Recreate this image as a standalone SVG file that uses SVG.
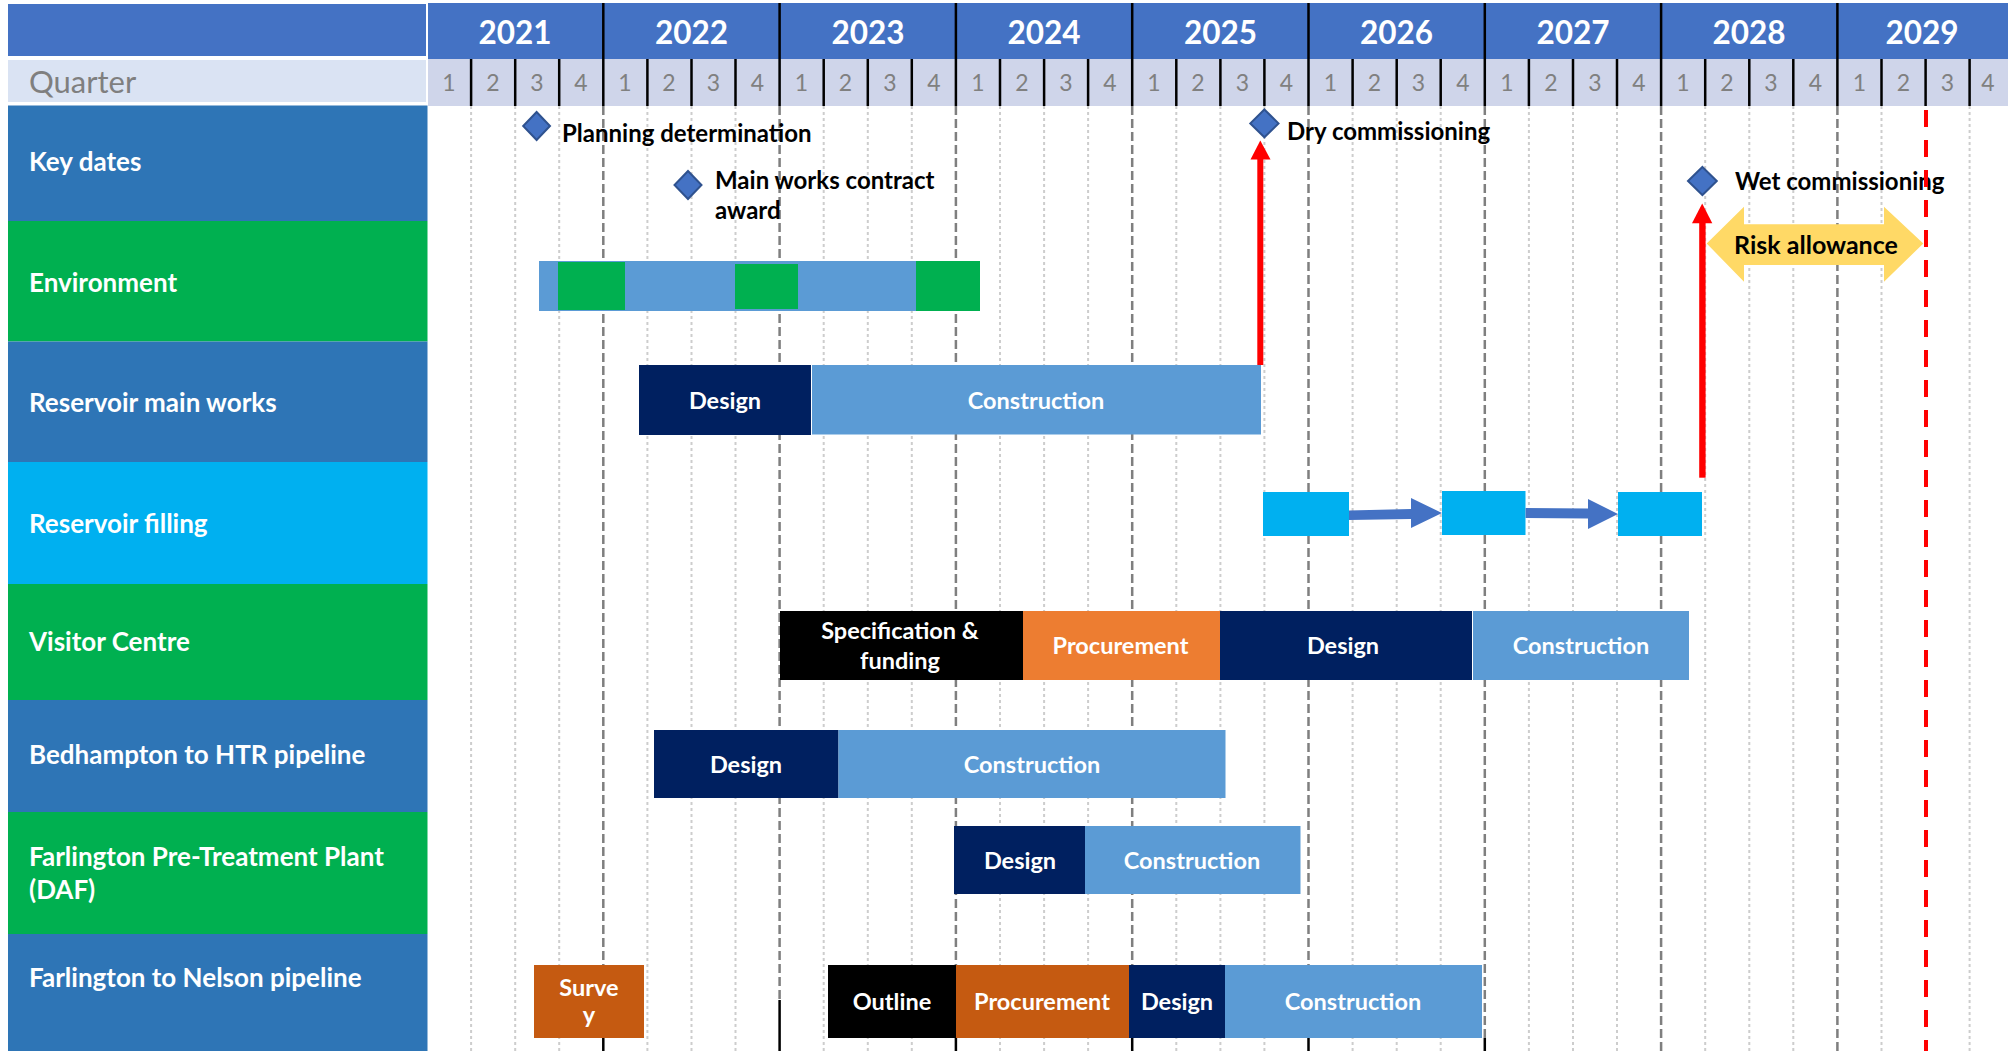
<svg xmlns="http://www.w3.org/2000/svg" width="2013" height="1051" viewBox="0 0 2013 1051">
<style>
.yr{fill:#4472C4}
.qr{fill:#CFD5EA}
.yt{font-family:Lato,"Liberation Sans",sans-serif;font-weight:bold;font-size:31.5px;fill:#fff;text-anchor:middle}
.qt{font-family:Lato,"Liberation Sans",sans-serif;font-size:23px;fill:#808080;text-anchor:middle}
.lab{font-family:Lato,"Liberation Sans",sans-serif;font-weight:bold;font-size:26px;fill:#fff}
.bt{font-family:Lato,"Liberation Sans",sans-serif;font-weight:bold;font-size:23.5px;fill:#fff;text-anchor:middle}
.kt{font-family:Lato,"Liberation Sans",sans-serif;font-weight:bold;font-size:24px;fill:#000}
.ms{fill:#4472C4;stroke:#2F528F;stroke-width:2}
.gq{stroke:#CDCDCD;stroke-width:2;stroke-dasharray:3 3;fill:none}
.gy{stroke:#7F7F7F;stroke-width:2.5;stroke-dasharray:9 4;fill:none}
.hb{stroke:#000;stroke-width:2.5;fill:none}
.navy{fill:#002060}
.lb{fill:#5B9BD5}
.grn{fill:#00B050}
.blk{fill:#000}
.org{fill:#ED7D31}
.dorg{fill:#C55A11}
.cy{fill:#00B0F0}
.red{fill:#FF0000}
</style>
<rect width="2013" height="1051" fill="#fff"/>

<g id="header">
<rect x="8" y="4" width="418" height="52" class="yr"/>
<rect x="8" y="60" width="418" height="42" fill="#DAE3F3"/>
<text x="29" y="93" font-family="Lato,'Liberation Sans',sans-serif" font-size="31" fill="#7F7F7F">Quarter</text>
<rect x="428" y="3" width="1580" height="56" class="yr"/>
<rect x="428" y="59" width="1580" height="47" class="qr"/>
<text class="yt" x="515" y="43.5">2021</text>
<text class="yt" x="691.5" y="43.5">2022</text>
<text class="yt" x="868" y="43.5">2023</text>
<text class="yt" x="1044" y="43.5">2024</text>
<text class="yt" x="1220.5" y="43.5">2025</text>
<text class="yt" x="1396.5" y="43.5">2026</text>
<text class="yt" x="1573" y="43.5">2027</text>
<text class="yt" x="1749" y="43.5">2028</text>
<text class="yt" x="1922" y="43.5">2029</text>
<g class="qt">
<text x="449" y="91">1</text><text x="493" y="91">2</text><text x="537" y="91">3</text><text x="581" y="91">4</text>
<text x="625" y="91">1</text><text x="669" y="91">2</text><text x="713.5" y="91">3</text><text x="757.5" y="91">4</text>
<text x="801.5" y="91">1</text><text x="845.5" y="91">2</text><text x="890" y="91">3</text><text x="934" y="91">4</text>
<text x="978" y="91">1</text><text x="1022" y="91">2</text><text x="1066" y="91">3</text><text x="1110" y="91">4</text>
<text x="1154" y="91">1</text><text x="1198" y="91">2</text><text x="1242.5" y="91">3</text><text x="1286.5" y="91">4</text>
<text x="1330.5" y="91">1</text><text x="1374.5" y="91">2</text><text x="1418.5" y="91">3</text><text x="1463" y="91">4</text>
<text x="1507" y="91">1</text><text x="1551" y="91">2</text><text x="1595" y="91">3</text><text x="1639" y="91">4</text>
<text x="1683" y="91">1</text><text x="1727" y="91">2</text><text x="1771" y="91">3</text><text x="1815.5" y="91">4</text>
<text x="1859.5" y="91">1</text><text x="1903.5" y="91">2</text><text x="1947.5" y="91">3</text><text x="1988" y="91">4</text>
</g>
<path class="hb" d="M603.3 3V106M779.6 3V106M955.9 3V106M1132.2 3V106M1308.5 3V106M1484.8 3V106M1661.1 3V106M1837.4 3V106"/>
<path class="hb" d="M471.1 59V106M515.2 59V106M559.2 59V106M647.4 59V106M691.5 59V106M735.5 59V106M823.7 59V106M867.8 59V106M911.8 59V106M1000 59V106M1044.1 59V106M1088.1 59V106M1176.3 59V106M1220.4 59V106M1264.4 59V106M1352.6 59V106M1396.7 59V106M1440.7 59V106M1528.9 59V106M1573 59V106M1617 59V106M1705.2 59V106M1749.3 59V106M1793.3 59V106M1881.5 59V106M1925.6 59V106M1969.6 59V106"/>
</g>

<g id="grid">
<path class="gq" d="M471.1 106V1051M515.2 106V1051M559.2 106V1051M647.4 106V1051M691.5 106V1051M735.5 106V1051M823.7 106V1051M867.8 106V1051M911.8 106V1051M1000 106V1051M1044.1 106V1051M1088.1 106V1051M1176.3 106V1051M1220.4 106V1051M1264.4 106V1051M1352.6 106V1051M1396.7 106V1051M1440.7 106V1051M1528.9 106V1051M1573 106V1051M1617 106V1051M1705.2 106V1051M1749.3 106V1051M1793.3 106V1051M1881.5 106V1051M1969.6 106V1051"/>
<path class="gy" d="M603.3 106V1038M779.6 106V1000M955.9 106V1038M1132.2 106V1038M1308.5 106V1038M1484.8 106V1038M1661.1 106V1051M1837.4 106V1051"/>
<path class="hb" d="M603.3 1038V1051M779.6 1000V1051M955.9 1038V1051M1132.2 1038V1051M1308.5 1038V1051M1484.8 1038V1051"/>
</g>

<g id="row-key-dates">
<rect x="8" y="105.5" width="419.5" height="115.5" fill="#2E75B6"/>
<text class="lab" x="29" y="171">Key dates</text>
</g>
<g id="row-environment">
<rect x="8" y="221" width="419.5" height="120.5" class="grn"/>
<text class="lab" x="29" y="291.5">Environment</text>
</g>
<g id="row-reservoir-main-works">
<rect x="8" y="341.5" width="419.5" height="120.5" fill="#2E75B6"/>
<text class="lab" x="29" y="412">Reservoir main works</text>
</g>
<g id="row-reservoir-filling">
<rect x="8" y="462" width="419.5" height="122" class="cy"/>
<text class="lab" x="29" y="533">Reservoir filling</text>
</g>
<g id="row-visitor-centre">
<rect x="8" y="584" width="419.5" height="116" class="grn"/>
<text class="lab" x="29" y="651">Visitor Centre</text>
</g>
<g id="row-bedhampton">
<rect x="8" y="700" width="419.5" height="112" fill="#2E75B6"/>
<text class="lab" x="29" y="764">Bedhampton to HTR pipeline</text>
</g>
<g id="row-farlington-ptp">
<rect x="8" y="812" width="419.5" height="122" class="grn"/>
<text class="lab" x="29" y="865.5">Farlington Pre-Treatment Plant</text>
<text class="lab" x="29" y="899">(DAF)</text>
</g>
<g id="row-farlington-nelson">
<rect x="8" y="934" width="419.5" height="117" fill="#2E75B6"/>
<text class="lab" x="29" y="987">Farlington to Nelson pipeline</text>
</g>

<g id="bars-environment">
<rect x="539" y="261" width="441" height="50" class="lb"/>
<rect x="558" y="262" width="67" height="48" class="grn"/>
<rect x="735" y="264" width="63" height="45" class="grn"/>
<rect x="916" y="261" width="64" height="50" class="grn"/>
</g>

<g id="bars-reservoir-main-works">
<rect x="639" y="365" width="172" height="70" class="navy"/>
<text class="bt" x="725" y="408.5">Design</text>
<rect x="812" y="365" width="449" height="69.5" class="lb"/>
<text class="bt" x="1036" y="408.5">Construction</text>
</g>

<g id="bars-reservoir-filling">
<rect x="1263" y="492" width="86" height="44" class="cy"/>
<rect x="1442" y="491" width="83.5" height="44" class="cy"/>
<rect x="1618" y="492" width="84" height="44" class="cy"/>
</g>

<g id="bars-visitor-centre">
<rect x="780" y="611" width="243" height="69" class="blk"/>
<text class="bt" x="900" y="639">Specification &amp;</text>
<text class="bt" x="900" y="668.5">funding</text>
<rect x="1023" y="611" width="197" height="69" class="org"/>
<text class="bt" x="1120.5" y="654">Procurement</text>
<rect x="1220" y="611" width="252" height="69" class="navy"/>
<text class="bt" x="1343" y="654">Design</text>
<rect x="1473" y="611" width="216" height="69" class="lb"/>
<text class="bt" x="1581" y="654">Construction</text>
</g>

<g id="bars-bedhampton">
<rect x="654" y="730" width="184.5" height="68" class="navy"/>
<text class="bt" x="746" y="772.5">Design</text>
<rect x="838.5" y="730" width="387" height="68" class="lb"/>
<text class="bt" x="1032" y="772.5">Construction</text>
</g>

<g id="bars-farlington-ptp">
<rect x="954" y="826" width="131" height="68" class="navy"/>
<text class="bt" x="1020" y="868.5">Design</text>
<rect x="1085" y="826" width="215.5" height="68" class="lb"/>
<text class="bt" x="1192" y="868.5">Construction</text>
</g>

<g id="bars-farlington-nelson">
<rect x="534" y="965" width="110" height="73" class="dorg"/>
<text class="bt" x="589" y="995.5">Surve</text>
<text class="bt" x="589" y="1023">y</text>
<rect x="828" y="965" width="128" height="73" class="blk"/>
<text class="bt" x="892" y="1010">Outline</text>
<rect x="956" y="965" width="173" height="73" class="dorg"/>
<text class="bt" x="1042" y="1010">Procurement</text>
<rect x="1129" y="965" width="96" height="73" class="navy"/>
<text class="bt" x="1177" y="1010">Design</text>
<rect x="1225" y="965" width="257" height="73" class="lb"/>
<text class="bt" x="1353" y="1010">Construction</text>
</g>

<g id="milestone-planning">
<polygon class="ms" points="536.6,112 550,126 536.6,140 523.2,126"/>
<text class="kt" x="562" y="142">Planning determination</text>
</g>
<g id="milestone-contract">
<polygon class="ms" points="688,171 701.5,185 688,199 674.5,185"/>
<text class="kt" x="715" y="188.5">Main works contract</text>
<text class="kt" x="715" y="219">award</text>
</g>
<g id="milestone-dry">
<polygon class="ms" points="1264.4,109.5 1278.5,123.4 1264.4,137.3 1250.3,123.4"/>
<text class="kt" x="1287" y="139.5">Dry commissioning</text>
</g>
<g id="milestone-wet">
<polygon class="ms" points="1702.4,167 1716.8,181 1702.4,195 1688,181"/>
<text class="kt" x="1735" y="189.5">Wet commissioning</text>
</g>

<g id="risk-allowance">
<polygon fill="#FFD966" points="1706.7,243.5 1744,206.7 1744,224.3 1884,224.3 1884,206.7 1923.3,243.5 1884,281.7 1884,265 1744,265 1744,281.7"/>
<text x="1816" y="254" font-family="Lato,'Liberation Sans',sans-serif" font-weight="bold" font-size="25" fill="#000" text-anchor="middle">Risk allowance</text>
</g>

<g id="connectors">
<rect class="red" x="1257.3" y="158" width="6" height="207"/>
<polygon class="red" points="1250.5,159.5 1260.3,140.5 1270.5,159.5"/>
<rect class="red" x="1699.2" y="222" width="6.4" height="255.7"/>
<polygon class="red" points="1692,223.3 1702.2,203.5 1712.3,223.3"/>
<polygon fill="#4472C4" points="1349,510.5 1411,509 1411,498 1442,513 1411,528 1411,519 1349,520"/>
<polygon fill="#4472C4" points="1525.6,508 1588,508.5 1588,499 1618,514 1588,529 1588,518.5 1525.6,518"/>
</g>

<g id="deadline">
<path d="M1926 110V1051" stroke="#FF0000" stroke-width="4" stroke-dasharray="17 13" fill="none"/>
</g>
</svg>
